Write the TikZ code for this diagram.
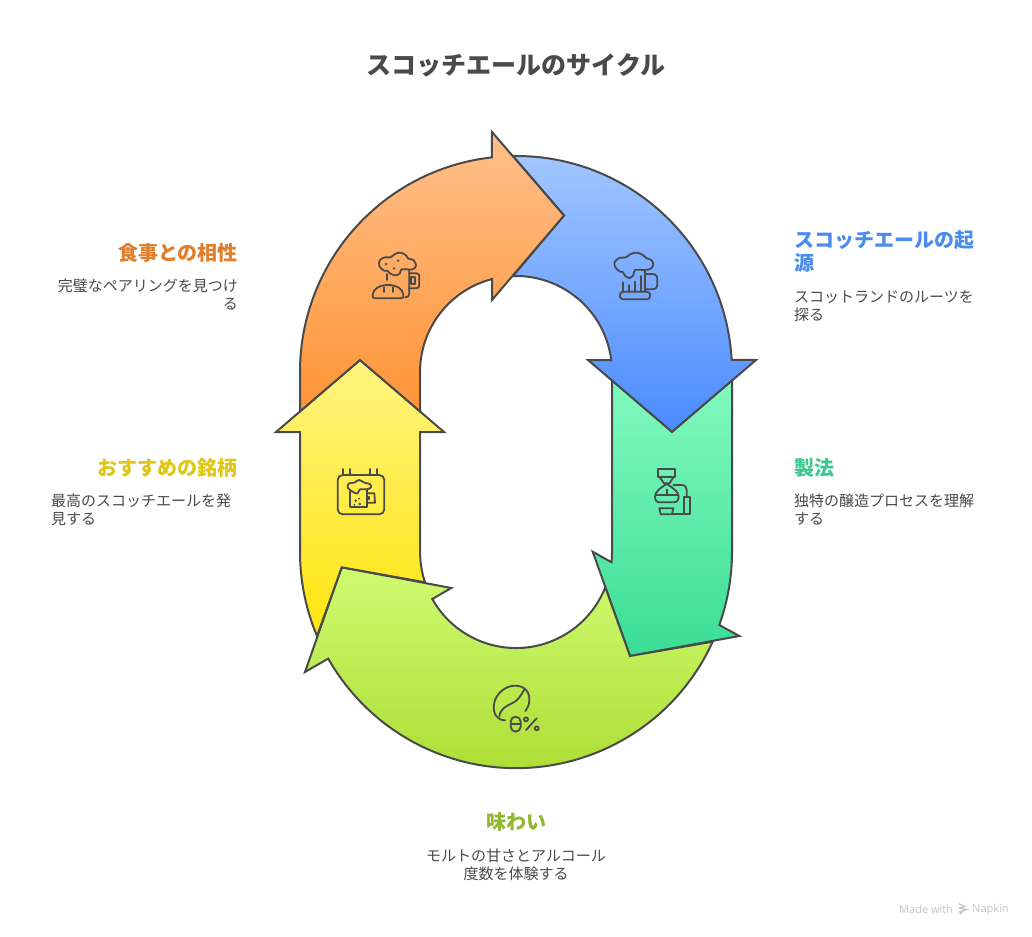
\documentclass[tikz,border=0pt]{standalone}
\usepackage{fontspec}
\setmainfont{Noto Sans CJK JP}
\newfontfamily\latinf{Open Sans}
\definecolor{ink}{HTML}{4A4A4A}
\definecolor{bluetop}{HTML}{A2C6FF}\definecolor{bluebot}{HTML}{4A8BFF}
\definecolor{orgtop}{HTML}{FFC08A}\definecolor{orgbot}{HTML}{FF9436}
\definecolor{tealtop}{HTML}{82FABF}\definecolor{tealbot}{HTML}{3ADD94}
\definecolor{limetop}{HTML}{CFFA70}\definecolor{limebot}{HTML}{A8DB2E}
\definecolor{yeltop}{HTML}{FFF480}\definecolor{yelbot}{HTML}{FFE50F}
\definecolor{hblue}{HTML}{4A8BEE}\definecolor{horg}{HTML}{E07E2B}
\definecolor{hteal}{HTML}{3CC88E}\definecolor{hlime}{HTML}{8FB82E}
\definecolor{hyel}{HTML}{DFC815}\definecolor{wmgrey}{HTML}{C4C4C4}
\tikzset{
  seg/.style={draw=ink,line width=2pt,line join=miter,miter limit=10},
  ico/.style={draw=ink,line width=1.8pt,line cap=round,line join=round},
  dotf/.style={fill=ink,draw=none},
  ttl/.style={font=\fontsize{25}{30}\selectfont\bfseries,text=ink,inner sep=0pt},
  hd/.style={font=\fontsize{20}{23.5}\selectfont\bfseries,inner sep=0pt},
  bd/.style={font=\fontsize{15}{17.8}\selectfont,text=ink,inner sep=0pt},
  wm/.style={anchor=west,inner sep=0pt,text=wmgrey,font=\latinf\fontsize{11}{12}\selectfont},
  zoomed/.style={shift={(#1)},scale=1/3},
}
\begin{document}
\begin{tikzpicture}[x=1pt,y=1pt,yscale=-1]
\useasboundingbox (0,0) rectangle (1032,936);
\fill[white] (0,0) rectangle (1032,936);
% blue
\path[seg,top color=bluetop,bottom color=bluebot]
 (513,156) arc[start angle=269.2,end angle=356.8,radius=216] -- (756,360) -- (672,432) -- (588,360) -- (611.25,360)
 arc[start angle=352.82,end angle=268.2,radius=96] -- (564,215.5) -- cycle;
% teal
\path[seg,top color=tealtop,bottom color=tealbot]
 (612,380.6) -- (672,432) -- (732,380.6) -- (732,552) arc[start angle=0,end angle=19.75,radius=216]
 -- (739.3,636) -- (630,656) -- (592.7,551.7) -- (611.5,562.3) arc[start angle=6.15,end angle=0,radius=96] -- cycle;
% lime
\path[seg,top color=limetop,bottom color=limebot]
 (712.7,641.7) arc[start angle=24.5,end angle=150.47,radius=216]
 -- (305,672) -- (341.7,567.3) -- (451.3,588) -- (432.3,599)
 arc[start angle=150.7,end angle=21.6,radius=96] -- (630,656) -- cycle;
% yellow
\path[seg,top color=yeltop,bottom color=yelbot]
 (300,432) -- (300,552) arc[start angle=180,end angle=157.1,radius=216]
 -- (341.7,567.3) -- (425,582.3) arc[start angle=161.6,end angle=180,radius=96]
 -- (420,432) -- (444,432) -- (360,360) -- (276,432) -- cycle;
% orange
\path[seg,top color=orgtop,bottom color=orgbot]
 (300,411.4) -- (300,372) arc[start angle=180,end angle=263.6,radius=216]
 -- (492,132) -- (564,215.5) -- (492,300) -- (492,279.05)
 arc[start angle=255.5,end angle=180,radius=96] -- (420,411.4) -- (360,360) -- cycle;

% icon: food pairing
\begin{scope}[zoomed={360,240}]
 \draw[ico] plot[smooth cycle,tension=.6] coordinates {(72,92)(58,78)(60,60)(76,52)(92,52)(105,42)(122,38)(138,46)(145,56)(160,60)(168,76)(158,88)(125,88)(120,100)(106,106)(90,100)(82,92)};
 \draw[ico] (80,102) -- (80,120);
 \fill[dotf] (78,72) circle (4) (114,62) circle (4) (102,85) circle (4);
 \draw[ico] (148,90) -- (148,160) .. controls (148,168) and (144,172) .. (136,172);
 \draw[ico] (148,100) -- (170,100) .. controls (176,100) and (178,104) .. (178,110) -- (178,135) .. controls (178,142) and (174,145) .. (168,145) -- (148,145);
 \draw[ico] (152,110) rectangle (165,132);
 \draw[ico] (44,175) -- (124,175) .. controls (130,175) and (131,170) .. (130,164) .. controls (128,145) and (108,135) .. (84,135) .. controls (60,135) and (40,145) .. (38,164) .. controls (37,170) and (38,175) .. (44,175) -- cycle;
 \draw[ico] (72,142) -- (72,156) (98,142) -- (98,156);
\end{scope}
% icon: blue mug
\begin{scope}[zoomed={600,240}]
 \draw[ico] plot[smooth cycle,tension=.6] coordinates {(60,95)(46,82)(44,66)(58,54)(78,52)(92,42)(112,38)(130,46)(138,54)(154,60)(160,74)(152,86)(135,90)(105,90)(100,106)(88,114)(76,108)(68,96)};
 \draw[ico] (135,90) -- (135,155);
 \draw[ico] (68,127) -- (68,155) (88,135) -- (88,155) (105,125) -- (105,155) (122,108) -- (122,155);
 \draw[ico] (135,102) -- (155,102) .. controls (168,102) and (172,108) .. (172,118) -- (172,132) .. controls (172,142) and (168,148) .. (155,148) -- (135,148);
 \draw[ico,rounded corners=3pt] (60,155) rectangle (150,178);
\end{scope}
% icon: brewing
\begin{scope}[zoomed={640,455}]
 \draw[ico] (55,42) rectangle (105,65);
 \draw[ico] (58,65) -- (72,85) -- (88,85) -- (102,65);
 \draw[ico] (78,88) .. controls (60,100) and (45,110) .. (45,125) .. controls (45,136) and (50,142) .. (60,142) -- (100,142) .. controls (110,142) and (116,136) .. (116,125) .. controls (116,110) and (100,100) .. (82,88) -- cycle;
 \draw[ico] (46,120) -- (115,120) (80,104) -- (80,120);
 \draw[ico] (100,90) -- (125,90) .. controls (135,90) and (140,96) .. (140,105) -- (140,125);
 \draw[ico] (132,125) rectangle (150,178);
 \draw[ico] (100,178) -- (132,178);
 \draw[ico] (58,160) -- (100,160) -- (96,178) -- (62,178) -- cycle;
\end{scope}
% icon: calendar
\begin{scope}[zoomed={325,460}]
 \draw[ico,rounded corners=5pt] (38,45) rectangle (178,163);
 \draw[ico] (55,27) -- (55,45) (75,27) -- (75,45) (135,27) -- (135,45) (155,27) -- (155,45);
 \draw[ico] plot[smooth cycle,tension=.6] coordinates {(78,92)(68,82)(72,70)(88,68)(102,60)(118,68)(134,72)(138,82)(125,88)(105,88)(98,100)(88,98)};
 \draw[ico] (75,95) -- (75,142) -- (125,142) -- (125,88);
 \draw[ico] (125,100) -- (148,100) -- (150,128) -- (125,128);
 \draw[ico] (132,110) -- (132,118);
 \fill[dotf] (92,122) circle (4) (102,116) circle (3) (104,132) circle (4) (88,134) circle (3);
\end{scope}
% icon: bean
\begin{scope}[zoomed={480,675}]
 \draw[ico] (75,136) .. controls (50,135) and (38,115) .. (42,88) .. controls (46,55) and (78,32) .. (105,32) .. controls (135,32) and (150,52) .. (148,78) .. controls (147,90) and (143,98) .. (136,108);
 \draw[ico] (58,124) .. controls (62,100) and (80,92) .. (98,84) .. controls (115,76) and (122,62) .. (134,42);
 \draw[ico,rounded corners=5pt] (92,125) rectangle (122,170);
 \draw[ico] (92,147) -- (122,147);
 \draw[ico] (138,133) circle [radius=6] (170,160) circle [radius=6];
 \draw[ico] (170,130) -- (138,165);
\end{scope}

% texts
\node[ttl] (title) at (516,65.5) {スコッチエールのサイクル};
\node[hd,text=horg,anchor=east] (h1) at (238,252.5) {食事との相性};
\node[bd,anchor=north east,align=right] (b1) at (238,278.5) {完璧なペアリングを見つけ\\る};
\node[hd,text=hblue,anchor=north west,align=left] (h2) at (794,230) {スコッチエールの起\\源};
\node[bd,anchor=north west,align=left] (b2) at (794,290.5) {スコットランドのルーツを\\探る};
\node[hd,text=hyel,anchor=east] (h3) at (238,467.5) {おすすめの銘柄};
\node[bd,anchor=north west,align=left] (b3) at (51,493.5) {最高のスコッチエールを発\\見する};
\node[hd,text=hteal,anchor=west] (h4) at (794,467.5) {製法};
\node[bd,anchor=north west,align=left] (b4) at (794,493.5) {独特の醸造プロセスを理解\\する};
\node[hd,text=hlime] (h5) at (516,821.5) {味わい};
\node[bd,anchor=north,align=center] (b5) at (516,848.5) {モルトの甘さとアルコール\\度数を体験する};

\node[wm] (mw) at (899,909.5) {Made with};
\node[wm] (nap) at (972,909.5) {Napkin};
\draw[wmgrey,line width=1.2pt] (958.5,903.5) -- (965,906.5) -- (958.5,908.5) (958.5,908) -- (967,909.5) -- (959,912) (959,912.5) -- (963,911) -- (960,914.5);
\end{tikzpicture}
\end{document}
